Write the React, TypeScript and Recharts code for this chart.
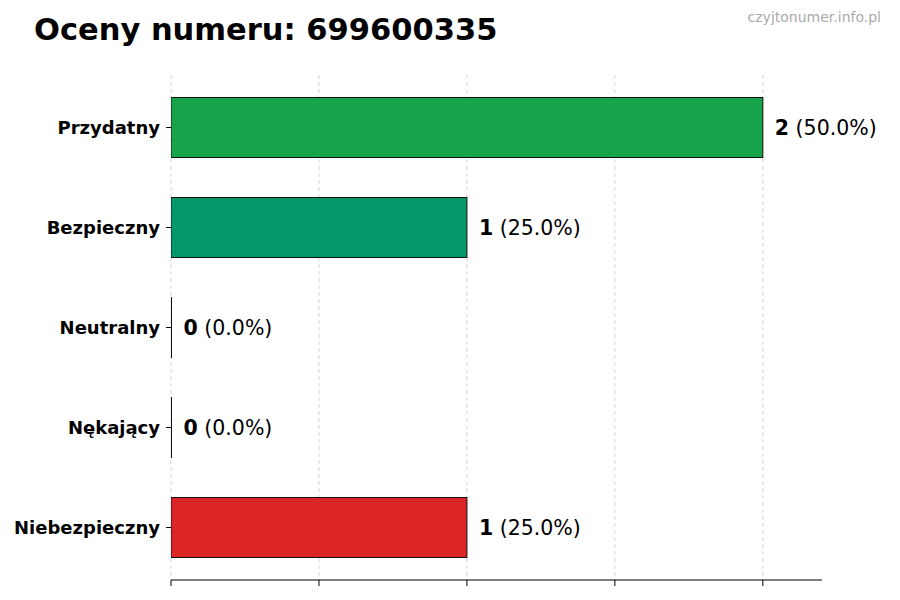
import { BarChart, Bar, XAxis, YAxis, CartesianGrid, Cell, LabelList } from "recharts";

const categories = ["Przydatny", "Bezpieczny", "Neutralny", "Nękający", "Niebezpieczny"];
const counts = [2, 1, 0, 0, 1];
const colors = ["#17a34a", "#05966a", "#9ca3af", "#ea580c", "#dc2626"];
const xTicks = [0, 0.5, 1, 1.5, 2];
const xMax = 2.2;

const total = counts.reduce((a, b) => a + b, 0);
const data = categories.map((name, i) => ({ name, value: counts[i] }));

const FONT = "DejaVu Sans, sans-serif";

function BarShape(props: any) {
  const { x, y, width, height, fill } = props;
  return (
    <rect
      x={x}
      y={y}
      width={Math.max(width, 0)}
      height={height}
      fill={fill}
      stroke="#111"
      strokeWidth={1}
    />
  );
}

function ValueLabel(props: any) {
  const { x, y, width, height, value } = props;
  const pct = total ? ((value / total) * 100).toFixed(1) : "0.0";
  return (
    <text
      x={x + width + 12}
      y={y + height / 2}
      dominantBaseline="central"
      fontFamily={FONT}
      fontSize={20.5}
      fill="#000"
    >
      <tspan fontWeight="bold">{value}</tspan>
      <tspan> ({pct}%)</tspan>
    </text>
  );
}

// grid only at the tick values, not at the right edge
function gridX({ offset }: any) {
  return xTicks.map((t) => offset.left + (offset.width * t) / xMax);
}

export default function App() {
  return (
    <div style={{ position: "absolute", left: 0, top: 0, width: 900, height: 600, background: "#fff" }}>
      <div
        style={{
          position: "absolute",
          left: 34,
          top: 12,
          fontFamily: FONT,
          fontWeight: "bold",
          fontSize: 30.5,
          color: "#000",
        }}
      >
        Oceny numeru: 699600335
      </div>
      <div
        style={{
          position: "absolute",
          right: 19,
          top: 9,
          fontFamily: FONT,
          fontSize: 14,
          color: "#aaa",
        }}
      >
        czyjtonumer.info.pl
      </div>
      <BarChart
        width={900}
        height={600}
        data={data}
        layout="vertical"
        margin={{ top: 75, right: 78, bottom: 0, left: 0 }}
        barCategoryGap={0}
      >
        <XAxis
          type="number"
          domain={[0, xMax]}
          ticks={xTicks}
          tickFormatter={() => ""}
          height={20}
          tickSize={6}
          axisLine={{ stroke: "#000" }}
          tickLine={{ stroke: "#000" }}
          allowDataOverflow
        />
        <YAxis
          type="category"
          dataKey="name"
          width={171}
          padding={{ top: 2.5, bottom: 2.5 }}
          axisLine={false}
          tickSize={5}
          tickMargin={6}
          tickLine={{ stroke: "#000" }}
          tick={{ fontFamily: FONT, fontSize: 18, fontWeight: "bold", fill: "#000" }}
        />
        <Bar dataKey="value" barSize={60} minPointSize={0.5} shape={BarShape} isAnimationActive={false}>
          {data.map((d, i) => (
            <Cell key={d.name} fill={colors[i]} />
          ))}
          <LabelList dataKey="value" content={ValueLabel} />
        </Bar>
        <CartesianGrid
          horizontal={false}
          strokeDasharray="4 3"
          stroke="#cccccc"
          strokeOpacity={0.8}
          verticalCoordinatesGenerator={gridX}
        />
      </BarChart>
    </div>
  );
}
